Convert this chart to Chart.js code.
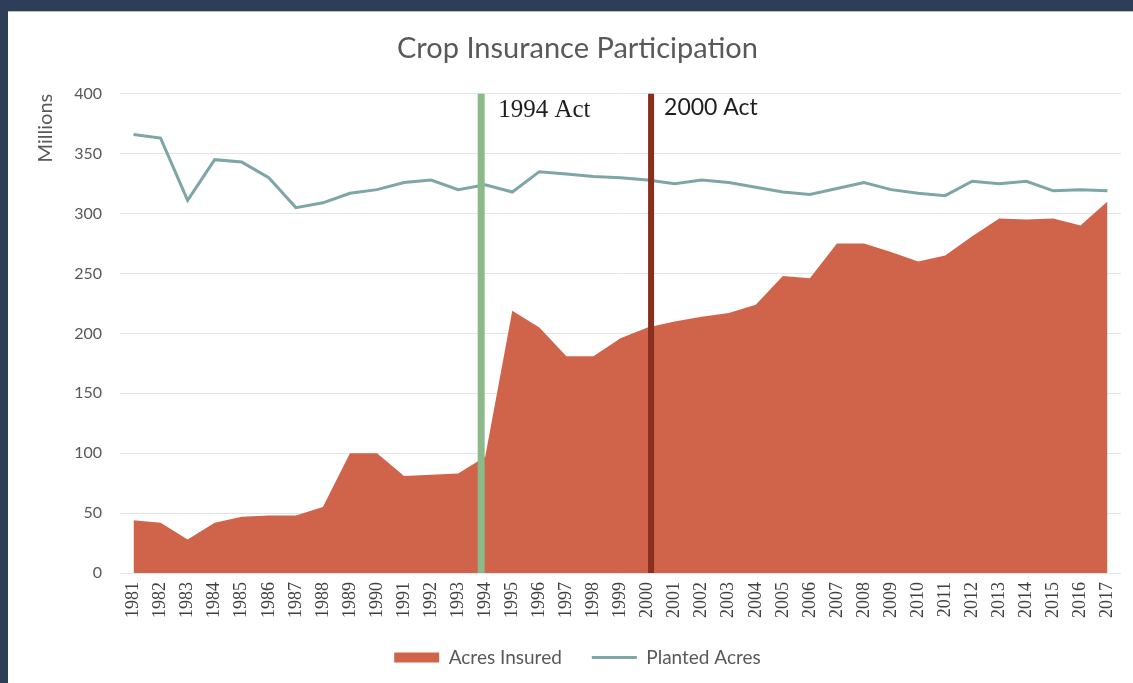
<!DOCTYPE html>
<html>
<head>
<meta charset="utf-8">
<title>Crop Insurance Participation</title>
<script src="https://cdn.jsdelivr.net/npm/chart.js@4.4.1/dist/chart.umd.min.js"></script>
<style>
    html, body {
        margin: 0;
        padding: 0;
        background: #2f3e58;
        overflow: hidden;
        width: 1133px;
        height: 683px;
    }
    #panel {
        position: absolute;
        left: 8px;
        top: 11px;
        width: 1125px;
        height: 672px;
        background: #ffffff;
        border-top: 1px solid #b9bfca;
    }
    #chart {
        display: block;
    }
</style>
</head>
<body>
<div id="panel">
    <canvas id="chart" width="1125" height="671"></canvas>
</div>
<script>
// Years on the x axis
const years = [
    '1981', '1982', '1983', '1984', '1985', '1986', '1987', '1988', '1989', '1990',
    '1991', '1992', '1993', '1994', '1995', '1996', '1997', '1998', '1999', '2000',
    '2001', '2002', '2003', '2004', '2005', '2006', '2007', '2008', '2009', '2010',
    '2011', '2012', '2013', '2014', '2015', '2016', '2017'
];

// Millions of acres
const acresInsured = [
    44, 42, 28, 42, 47, 48, 48, 55, 100, 100,
    81, 82, 83, 97, 219, 205, 181, 181, 196, 205,
    210, 214, 217, 224, 248, 246, 275, 275, 268, 260,
    265, 281, 296, 295, 296, 290, 310
];

const plantedAcres = [
    366, 363, 311, 345, 343, 330, 305, 309, 317, 320,
    326, 328, 320, 324, 318, 335, 333, 331, 330, 328,
    325, 328, 326, 322, 318, 316, 321, 326, 320, 317,
    315, 327, 325, 327, 319, 320, 319
];

const yTicks = [0, 50, 100, 150, 200, 250, 300, 350, 400];

// Policy acts marked on the chart (year positions as drawn)
const actYears = [1993.85, 2000.13];
const actLabels = ['1994 Act', '2000 Act'];

const colors = {
    insured: '#d0644a',
    planted: '#7fa5a6',
    act1994: '#8cb98a',
    act2000: '#8a2e1e',
    text: '#595959'
};

// draws the two vertical act lines and their captions
const actLinesPlugin = {
    id: 'actLines',
    afterDatasetsDraw(chart) {
        const ctx = chart.ctx;
        const x = chart.scales.x;
        const area = chart.chartArea;
        const styles = [
            { color: colors.act1994, width: 7, font: '25px "Liberation Serif", serif', dx: 17, dy: 23 },
            { color: colors.act2000, width: 6, font: '23px Lato, sans-serif', dx: 13, dy: 21 }
        ];

        actYears.forEach((yr, i) => {
            const px = x.getPixelForValue(yr - Number(years[0]));
            const s = styles[i];
            ctx.save();
            ctx.strokeStyle = s.color;
            ctx.lineWidth = s.width;
            ctx.beginPath();
            ctx.moveTo(px, area.top);
            ctx.lineTo(px, area.bottom);
            ctx.stroke();

            ctx.fillStyle = '#1e1e1e';
            ctx.font = s.font;
            ctx.textBaseline = 'alphabetic';
            ctx.textAlign = 'left';
            ctx.fillText(actLabels[i], px + s.dx, area.top + s.dy);
            ctx.restore();
        });
    }
};

const ctx = document.getElementById('chart').getContext('2d');

const chart = new Chart(ctx, {
    type: 'line',
    data: {
        labels: years,
        datasets: [{
            label: 'Acres Insured',
            data: acresInsured,
            borderColor: colors.insured,
            backgroundColor: colors.insured,
            borderWidth: 0,
            pointRadius: 0,
            fill: 'origin',
            order: 1
        }, {
            label: 'Planted Acres',
            data: plantedAcres,
            borderColor: colors.planted,
            backgroundColor: colors.planted,
            borderWidth: 3,
            pointRadius: 0,
            fill: false,
            tension: 0,
            order: 0
        }]
    },
    options: {
        responsive: false,
        animation: false,
        layout: {
            padding: { left: 26, right: 12, top: 0, bottom: 9 }
        },
        plugins: {
            title: {
                display: true,
                text: 'Crop Insurance Participation',
                color: colors.text,
                font: { family: 'Lato', size: 29, weight: 'normal' },
                padding: { top: 19, bottom: 28 }
            },
            legend: {
                position: 'bottom',
                maxHeight: 56,
                labels: {
                    usePointStyle: true,
                    pointStyleWidth: 45,
                    boxHeight: 10,
                    padding: 30,
                    color: colors.text,
                    font: { family: 'Lato', size: 19 },
                    generateLabels: (c) => c.data.datasets.map((ds, i) => ({
                        text: ds.label,
                        fillStyle: ds.backgroundColor,
                        strokeStyle: ds.borderColor,
                        lineWidth: i === 0 ? 0 : 3,
                        pointStyle: i === 0 ? 'rect' : 'line',
                        fontColor: colors.text,
                        hidden: false,
                        datasetIndex: i
                    }))
                }
            },
            tooltip: { enabled: false }
        },
        scales: {
            x: {
                offset: true,
                grid: { display: false, drawTicks: false },
                border: { display: false },
                ticks: {
                    autoSkip: false,
                    minRotation: 90,
                    maxRotation: 90,
                    padding: 9,
                    color: '#404040',
                    font: { family: 'Liberation Serif', size: 18 }
                },
                afterFit: (scale) => {
                    scale.height = 45;
                    scale.paddingLeft = 0;
                    scale.paddingRight = 0;
                }
            },
            y: {
                min: 0,
                max: 400,
                afterBuildTicks: (scale) => {
                    scale.ticks = yTicks.map(v => ({ value: v }));
                },
                grid: { color: '#e4e4e4', lineWidth: 1, drawTicks: false },
                border: { display: false },
                ticks: {
                    padding: 18,
                    color: colors.text,
                    font: { family: 'Lato', size: 16 }
                },
                title: {
                    display: true,
                    text: 'Millions',
                    align: 'end',
                    color: colors.text,
                    font: { family: 'Lato', size: 20 },
                    padding: { top: 0, bottom: 4 }
                },
                afterFit: (scale) => { scale.width = 86; }
            }
        }
    },
    plugins: [actLinesPlugin]
});
</script>
</body>
</html>
